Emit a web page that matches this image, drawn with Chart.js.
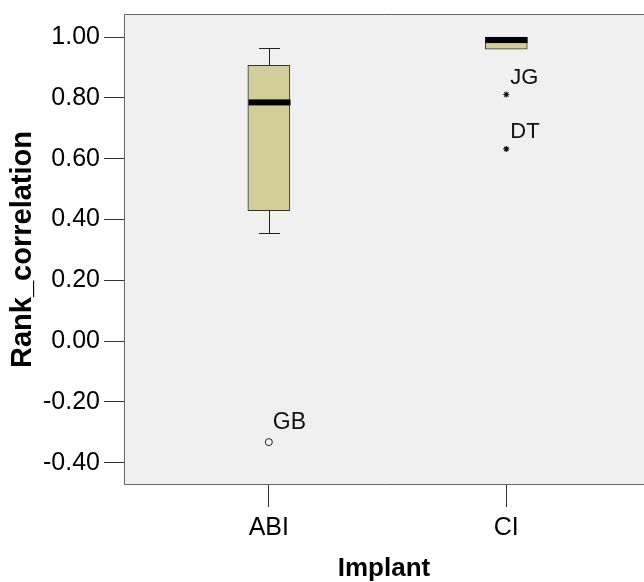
<!DOCTYPE html>
<html>
<head>
<meta charset="utf-8">
<script src="https://cdn.jsdelivr.net/npm/chart.js@4"></script>
<style>
html,body{margin:0;padding:0;background:#fff;overflow:hidden;}
canvas{display:block;}
</style>
</head>
<body>
<canvas id="c" width="644" height="582"></canvas>
<script>
// ---- data ----
const categories = ['ABI', 'CI'];
const categoryPos = [0, 1];
const whiskerLow  = [0.354, 0.96];
const q1          = [0.429, 0.96];
const median      = [0.785, 0.99];
const q3          = [0.907, 1.00];
const whiskerHigh = [0.965, 1.00];
// outliers
const mildCategory = [0];
const mildValue    = [-0.332];
const mildLabel    = ['GB'];
const extremeCategory = [1, 1];
const extremeValue    = [0.811, 0.632];
const extremeLabel    = ['JG', 'DT'];
const yTicks = [-0.4, -0.2, 0.0, 0.2, 0.4, 0.6, 0.8, 1.0];

const FONT = "'Liberation Sans', Arial, sans-serif";

const boxPlugin = {
  id: 'boxExtras',
  beforeDraw(chart) {
    const {ctx, chartArea: a} = chart;
    ctx.save();
    ctx.fillStyle = '#f0f0f0';
    ctx.fillRect(a.left, a.top, chart.width - a.left, a.bottom - a.top);
    ctx.restore();
  },
  afterDatasetsDraw(chart) {
    const {ctx} = chart;
    const xs = chart.scales.x, ys = chart.scales.y;
    const boxW = 42, capW = 21;
    ctx.save();
    ctx.strokeStyle = '#222';
    ctx.lineWidth = 1;
    categoryPos.forEach((c, i) => {
      const x = Math.round(xs.getPixelForValue(c)) + 0.5;
      const yHi = ys.getPixelForValue(whiskerHigh[i]);
      const yQ3 = ys.getPixelForValue(q3[i]);
      const yQ1 = ys.getPixelForValue(q1[i]);
      const yLo = ys.getPixelForValue(whiskerLow[i]);
      if (whiskerHigh[i] > q3[i]) {
        ctx.beginPath();
        ctx.moveTo(x, yQ3); ctx.lineTo(x, Math.round(yHi) + 0.5);
        ctx.moveTo(x - capW / 2, Math.round(yHi) + 0.5); ctx.lineTo(x + capW / 2, Math.round(yHi) + 0.5);
        ctx.stroke();
      }
      if (whiskerLow[i] < q1[i]) {
        ctx.beginPath();
        ctx.moveTo(x, yQ1); ctx.lineTo(x, Math.round(yLo) + 0.5);
        ctx.moveTo(x - capW / 2, Math.round(yLo) + 0.5); ctx.lineTo(x + capW / 2, Math.round(yLo) + 0.5);
        ctx.stroke();
      }
      // median
      const yM = ys.getPixelForValue(median[i]);
      ctx.fillStyle = '#000';
      ctx.fillRect(x - boxW / 2, yM - 3, boxW, 6);
    });
    // labels for outliers
    ctx.fillStyle = '#111';
    ctx.textAlign = 'left';
    ctx.textBaseline = 'middle';
    ctx.font = '23px ' + FONT;
    mildCategory.forEach((c, i) => {
      ctx.fillText(mildLabel[i], xs.getPixelForValue(c) + 4, ys.getPixelForValue(mildValue[i]) - 19);
    });
    ctx.font = '22px ' + FONT;
    extremeCategory.forEach((c, i) => {
      ctx.fillText(extremeLabel[i], xs.getPixelForValue(c) + 4, ys.getPixelForValue(extremeValue[i]) - 17);
    });
    ctx.restore();
  },
  afterDraw(chart) {
    const {ctx, chartArea: a} = chart;
    ctx.save();
    ctx.strokeStyle = '#666';
    ctx.lineWidth = 1;
    ctx.beginPath();
    ctx.moveTo(chart.width, a.top + 0.5);
    ctx.lineTo(a.left + 0.5, a.top + 0.5);
    ctx.lineTo(a.left + 0.5, a.bottom - 0.5);
    ctx.lineTo(chart.width, a.bottom - 0.5);
    ctx.stroke();
    ctx.restore();
  }
};

new Chart(document.getElementById('c'), {
  type: 'bar',
  data: {
    datasets: [
      {
        type: 'bar',
        data: categoryPos.map((c, i) => ({x: c, y: [q1[i], q3[i]]})),
        backgroundColor: '#d3ce97',
        borderColor: '#333',
        borderWidth: 1,
        borderSkipped: false,
        barThickness: 42,
        order: 2
      },
      {
        type: 'scatter',
        data: mildCategory.map((c, i) => ({x: c, y: mildValue[i]})),
        pointStyle: 'circle',
        pointRadius: 3.5,
        backgroundColor: 'rgba(0,0,0,0)',
        borderColor: '#222',
        borderWidth: 1,
        order: 1
      },
      {
        type: 'scatter',
        data: extremeCategory.map((c, i) => ({x: c, y: extremeValue[i]})),
        pointStyle: 'star',
        pointRadius: 3,
        borderColor: '#111',
        borderWidth: 1.2,
        order: 1
      }
    ]
  },
  options: {
    responsive: false,
    devicePixelRatio: 1,
    animation: false,
    layout: {autoPadding: false, padding: {top: 14, right: 0, left: 0, bottom: 0}},
    plugins: {legend: {display: false}, tooltip: {enabled: false}},
    scales: {
      x: {
        type: 'linear',
        offset: false,
        min: -0.61,
        max: 1.58,
        afterBuildTicks: s => { s.ticks = categoryPos.map(v => ({value: v})); },
        afterFit: s => { s.height = 97; s.paddingLeft = 0; s.paddingRight = 0; },
        grid: {offset: false, drawOnChartArea: false, drawTicks: true, tickLength: 22, color: '#333', tickWidth: 1},
        border: {display: false},
        ticks: {
          callback: v => categories[categoryPos.indexOf(v)],
          color: '#000',
          font: {family: FONT, size: 25},
          padding: 6,
          maxRotation: 0
        },
        title: {display: true, text: 'Implant', color: '#000',
          font: {family: FONT, size: 26, weight: 'bold', lineHeight: 1}, padding: {top: 0, bottom: 0}}
      },
      y: {
        type: 'linear',
        min: -0.473,
        max: 1.0757,
        afterBuildTicks: s => { s.ticks = yTicks.map(v => ({value: v})); },
        afterFit: s => { s.width = 124; s.paddingTop = 0; s.paddingBottom = 0; },
        grid: {drawOnChartArea: false, drawTicks: true, tickLength: 20, color: '#333', tickWidth: 1},
        border: {display: false},
        ticks: {
          callback: v => v.toFixed(2),
          color: '#000',
          font: {family: FONT, size: 25},
          padding: 4
        },
        title: {display: true, text: 'Rank_correlation', color: '#000',
          font: {family: FONT, size: 29, weight: 'bold', lineHeight: 1}, padding: {top: 8, bottom: 0}}
      }
    }
  },
  plugins: [boxPlugin]
});
</script>
</body>
</html>
